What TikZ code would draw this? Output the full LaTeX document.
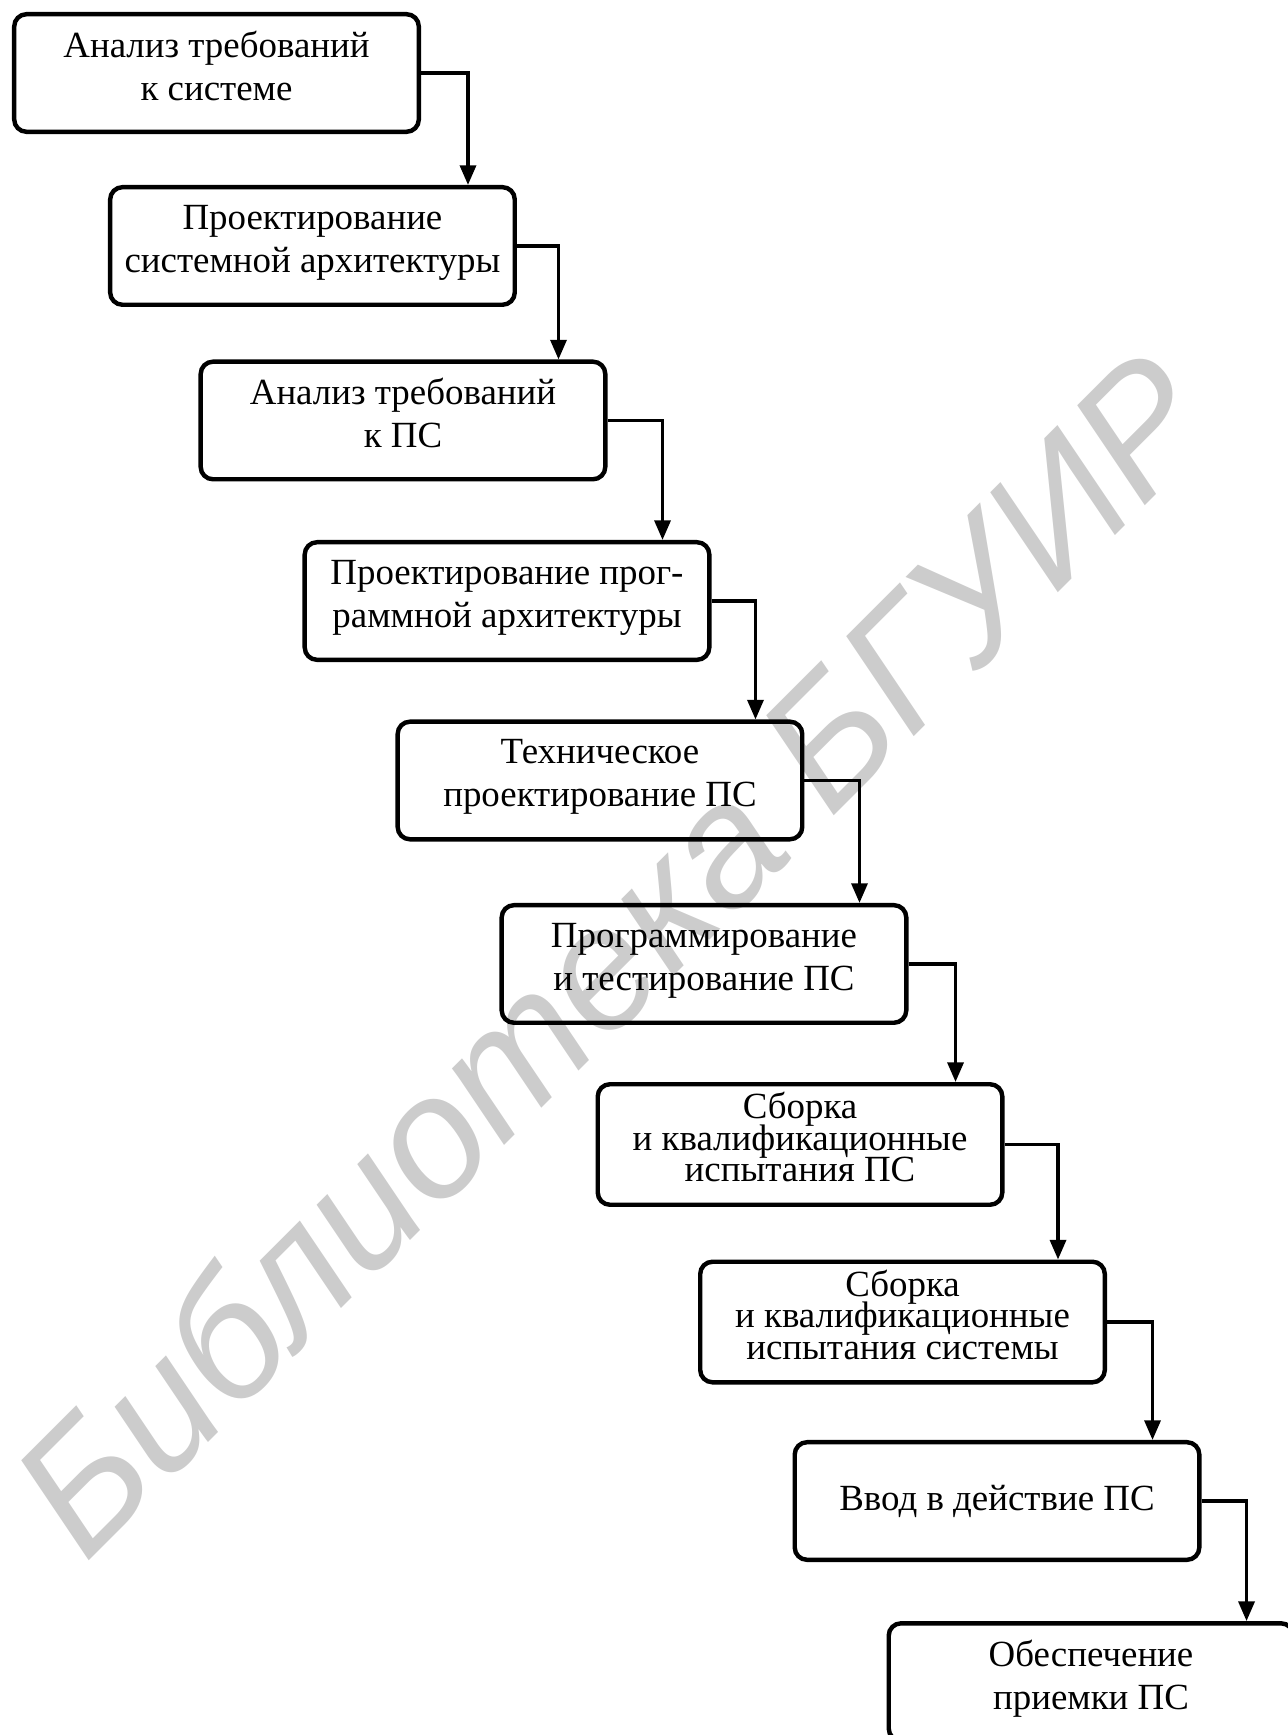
\documentclass[tikz,border=0pt]{standalone}
\usepackage{fontspec}
\setmainfont{Liberation Serif}
\newfontfamily\wmfont{Liberation Sans}
\usetikzlibrary{arrows.meta}
\newcommand\tightlines{\fontsize{15}{12.8}\selectfont\setlength{\lineskiplimit}{-20pt}}
\tikzset{stage/.style={draw, line width=1.8pt, rounded corners=5pt,
         minimum width=5.78cm, minimum height=1.68cm,
         align=center, font=\fontsize{15}{17.5}\selectfont},
         tight/.style={font=\tightlines},
         up/.style={text depth=6pt},
         flow/.style={line width=1.4pt, -{Triangle[length=8pt,width=6.5pt]}}}

\begin{document}
\begin{tikzpicture}
        \useasboundingbox (0,0) rectangle (18.386,-24.786);

        % watermark
        \node[anchor=base west, rotate=45, inner sep=0pt, text=black!20,
              font=\wmfont\itshape\fontsize{70}{70}\selectfont] (wm) at (1.22,-22.36) {Библиотека БГУИР};

        % stages
        \node[stage, up] (st1) at (3.093,-1.043) {Анализ требований\\к системе};
        \node[stage, up] (st2) at (4.464,-3.514) {Проектирование\\системной архитектуры};
        \node[stage, up] (st3) at (5.757,-6.007) {Анализ требований\\к ПС};
        \node[stage, up] (st4) at (7.243,-8.586) {Проектирование прог-\\раммной архитектуры};
        \node[stage, up] (st5) at (8.571,-11.15) {Техническое\\проектирование ПС};
        \node[stage, up] (st6) at (10.057,-13.771) {Программирование\\и тестирование ПС};
        \node[stage, tight, up] (st7) at (11.429,-16.35) {Сборка\\и квалификационные\\испытания ПС};
        \node[stage, tight, up] (st8) at (12.893,-18.886) {Сборка\\и квалификационные\\испытания системы};
        \node[stage] (st9) at (14.243,-21.443) {Ввод в действие ПС};
        \node[stage, up] (st10) at (15.586,-24.03) {Обеспечение\\приемки ПС};

        % connectors
        \draw[flow] (st1.east) -| ([xshift=-0.7cm]st2.north east);
        \draw[flow] (st2.east) -| ([xshift=-0.7cm]st3.north east);
        \draw[flow] (st3.east) -| ([xshift=-0.7cm]st4.north east);
        \draw[flow] (st4.east) -| ([xshift=-0.7cm]st5.north east);
        \draw[flow] (st5.east) -| ([xshift=-0.7cm]st6.north east);
        \draw[flow] (st6.east) -| ([xshift=-0.7cm]st7.north east);
        \draw[flow] (st7.east) -| ([xshift=-0.7cm]st8.north east);
        \draw[flow] (st8.east) -| ([xshift=-0.7cm]st9.north east);
        \draw[flow] (st9.east) -| ([xshift=-0.7cm]st10.north east);
\end{tikzpicture}
\end{document}
